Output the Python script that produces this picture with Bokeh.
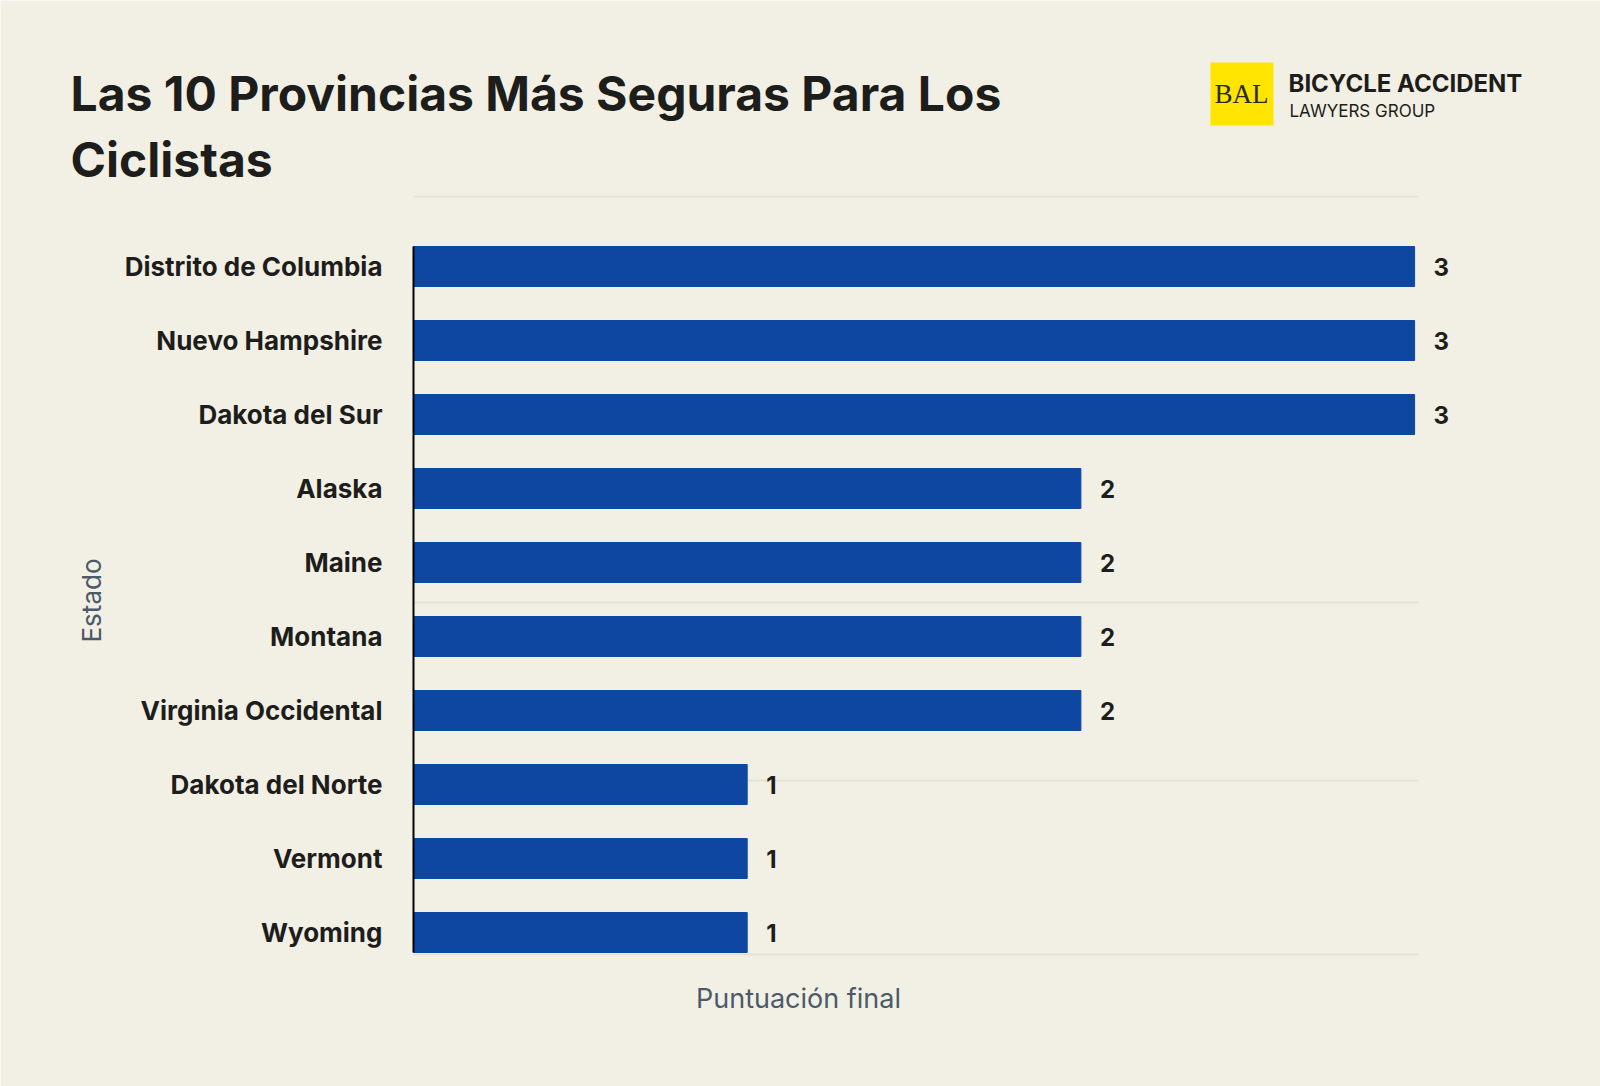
import math
from bokeh.plotting import figure
from bokeh.models import Range1d, FixedTicker, Label, LabelSet, ColumnDataSource, BoxAnnotation
from bokeh.core.properties import value
from bokeh.embed import file_html
from bokeh.resources import INLINE

states = ["Distrito de Columbia", "Nuevo Hampshire", "Dakota del Sur", "Alaska", "Maine",
          "Montana", "Virginia Occidental", "Dakota del Norte", "Vermont", "Wyoming"]
scores = [3, 3, 3, 2, 2, 2, 2, 1, 1, 1]
title_lines = ["Las 10 Provincias Más Seguras Para Los", "Ciclistas"]
x_title = "Puntuación final"
y_title = "Estado"
brand = ["BICYCLE ACCIDENT", "LAWYERS GROUP", "BAL"]

BG = "#f2f0e5"
BAR = "#0d47a1"
DARK = "#1d1d1b"
SLATE = "#4b5a68"
FONT = "Inter"

W, H = 1600, 1086
idx = list(range(len(states)))
src = ColumnDataSource(dict(y=idx, x=scores, lbl=[str(s) for s in scores]))

p = figure(width=W, height=H, output_backend="svg", toolbar_location=None, title=None,
           x_range=Range1d(-1.2376, 3.5571), y_range=Range1d(11.081, -3.5946),
           x_axis_location=None, min_border=0)
p.background_fill_color = BG
p.border_fill_color = BG
p.outline_line_color = None
p.xgrid.visible = False

p.hbar(y="y", right="x", left=0, height=0.54, source=src, color=BAR)

p.ygrid.ticker = FixedTicker(ticks=[-0.946, 4.54, 6.946, 9.297])
p.ygrid.cross_bounds = (0, 3.012)
p.ygrid.grid_line_color = "#e4e2d6"
p.ygrid.grid_line_width = 2

ax = p.yaxis[0]
ax.fixed_location = 0
ax.ticker = FixedTicker(ticks=idx)
ax.major_label_overrides = {i: s for i, s in zip(idx, states)}
ax.major_tick_line_color = None
ax.minor_tick_line_color = None
ax.major_label_standoff = 25
ax.major_label_text_font = FONT
ax.major_label_text_font_style = "bold"
ax.major_label_text_font_size = "26px"
ax.major_label_text_color = DARK
ax.axis_line_color = "black"
ax.axis_line_width = 2
ax.bounds = (-0.27, 9.27)

p.add_layout(LabelSet(x="x", y="y", text="lbl", source=src, x_offset=19,
                      text_baseline="middle", text_font=value(FONT), text_font_style="bold",
                      text_font_size="24px", text_color=DARK))

# title
for txt, sy in zip(title_lines, [993, 927]):
    p.add_layout(Label(x=70, y=sy, x_units="screen", y_units="screen", text=txt,
                       text_font=FONT, text_font_style="bold", text_font_size="48px",
                       text_color=DARK, text_baseline="alphabetic"))

# axis titles
p.add_layout(Label(x=798, y=88, x_units="screen", y_units="screen", text=x_title,
                   text_font=FONT, text_font_size="27px", text_color=SLATE,
                   text_align="center", text_baseline="middle"))
p.add_layout(Label(x=91, y=486, x_units="screen", y_units="screen", text=y_title,
                   angle=math.pi / 2, text_font=FONT, text_font_size="26px", text_color=SLATE,
                   text_align="center", text_baseline="middle"))

# logo
p.add_layout(BoxAnnotation(left=1210, right=1273, bottom=961, top=1024,
                           left_units="screen", right_units="screen",
                           bottom_units="screen", top_units="screen",
                           fill_color="#ffe500", fill_alpha=1, line_color=None))
p.add_layout(Label(x=1241, y=993, x_units="screen", y_units="screen", text=brand[2],
                   text_font="Liberation Serif", text_font_size="27px", text_color="#2a2a1a",
                   text_align="center", text_baseline="middle"))
p.add_layout(Label(x=1288, y=1003, x_units="screen", y_units="screen", text=brand[0],
                   text_font=FONT, text_font_style="bold", text_font_size="24px",
                   text_color=DARK, text_baseline="alphabetic"))
p.add_layout(Label(x=1289, y=976, x_units="screen", y_units="screen", text=brand[1],
                   text_font=FONT, text_font_size="17px",
                   text_color=DARK, text_baseline="alphabetic"))

open("out.html", "w").write(file_html(p, INLINE))
